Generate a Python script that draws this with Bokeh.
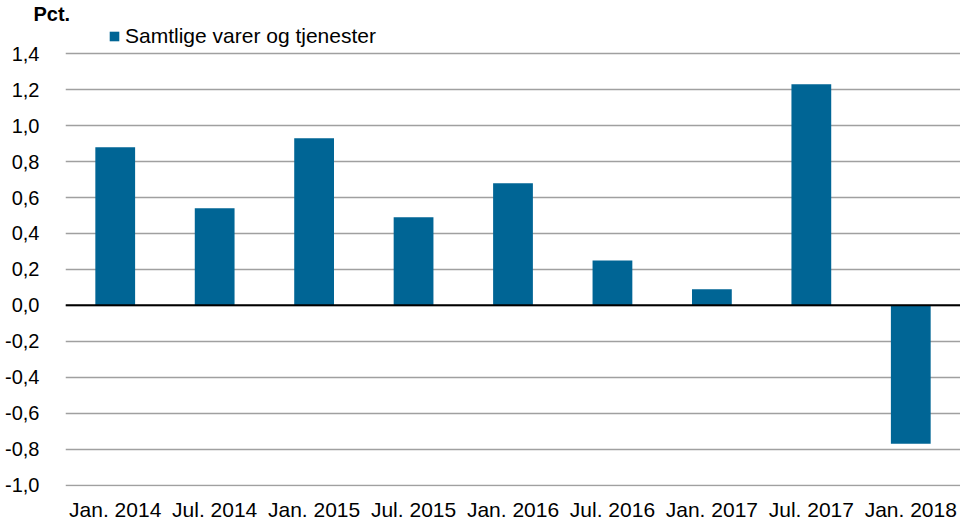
from bokeh.plotting import figure
from bokeh.models import FactorRange, Range1d, FixedTicker, Span, Legend, LegendItem, ColumnDataSource
from bokeh.embed import file_html
from bokeh.resources import INLINE

categories = ["Jan. 2014", "Jul. 2014", "Jan. 2015", "Jul. 2015", "Jan. 2016",
              "Jul. 2016", "Jan. 2017", "Jul. 2017", "Jan. 2018"]
values = [0.88, 0.54, 0.93, 0.49, 0.68, 0.25, 0.09, 1.23, -0.77]
series_name = "Samtlige varer og tjenester"
y_ticks = [-1.0, -0.8, -0.6, -0.4, -0.2, 0.0, 0.2, 0.4, 0.6, 0.8, 1.0, 1.2, 1.4]
y_tick_labels = ["-1,0", "-0,8", "-0,6", "-0,4", "-0,2", "0,0", "0,2", "0,4", "0,6", "0,8", "1,0", "1,2", "1,4"]
unit_label = "Pct."

FONT = "Liberation Sans"
BAR = "#006595"

p = figure(width=960, height=523, x_range=FactorRange(factors=categories, range_padding=0),
           y_range=Range1d(-1.008, 1.563), output_backend="svg", toolbar_location=None,
           min_border_left=65, min_border_right=0, min_border_top=0, min_border_bottom=35,
           title=unit_label)
p.outline_line_color = None
p.background_fill_color = "white"

p.title.align = "left"
p.title.offset = -32
p.title.standoff = 0
p.title.vertical_align = "bottom"
p.title.text_font = FONT
p.title.text_font_style = "bold"
p.title.text_font_size = "20px"
p.title.text_color = "black"

src = ColumnDataSource(dict(x=categories, top=values))
r = p.vbar(x="x", top="top", bottom=0, width=0.4, source=src, fill_color=BAR, line_color=None)

p.xgrid.grid_line_color = None
p.ygrid.grid_line_color = "#a0a0a0"
p.ygrid.grid_line_width = 1.6
p.ygrid.ticker = FixedTicker(ticks=y_ticks)

p.yaxis.ticker = FixedTicker(ticks=y_ticks)
p.yaxis.major_label_overrides = {t: l for t, l in zip(y_ticks, y_tick_labels)}
p.yaxis.axis_line_color = None
p.yaxis.major_tick_line_color = None
p.yaxis.minor_tick_line_color = None
p.yaxis.major_label_standoff = 20
p.yaxis.major_label_text_font = FONT
p.yaxis.major_label_text_font_size = "20px"
p.yaxis.major_label_text_color = "black"

p.xaxis.axis_line_color = None
p.xaxis.major_tick_line_color = None
p.xaxis.minor_tick_line_color = None
p.xaxis.major_label_standoff = 5
p.xaxis.major_label_text_font = FONT
p.xaxis.major_label_text_font_size = "21px"
p.xaxis.major_label_text_color = "black"

p.add_layout(Span(location=0, dimension="width", line_color="black", line_width=2))

legend = Legend(items=[LegendItem(label=series_name, renderers=[r])], location=(43, 438),
                padding=0, margin=0, glyph_width=12, glyph_height=12, label_standoff=5,
                border_line_color=None, background_fill_alpha=0,
                label_text_font=FONT, label_text_font_size="21px", label_text_color="black")
p.add_layout(legend, "center")

open("out.html", "w").write(file_html(p, INLINE))
